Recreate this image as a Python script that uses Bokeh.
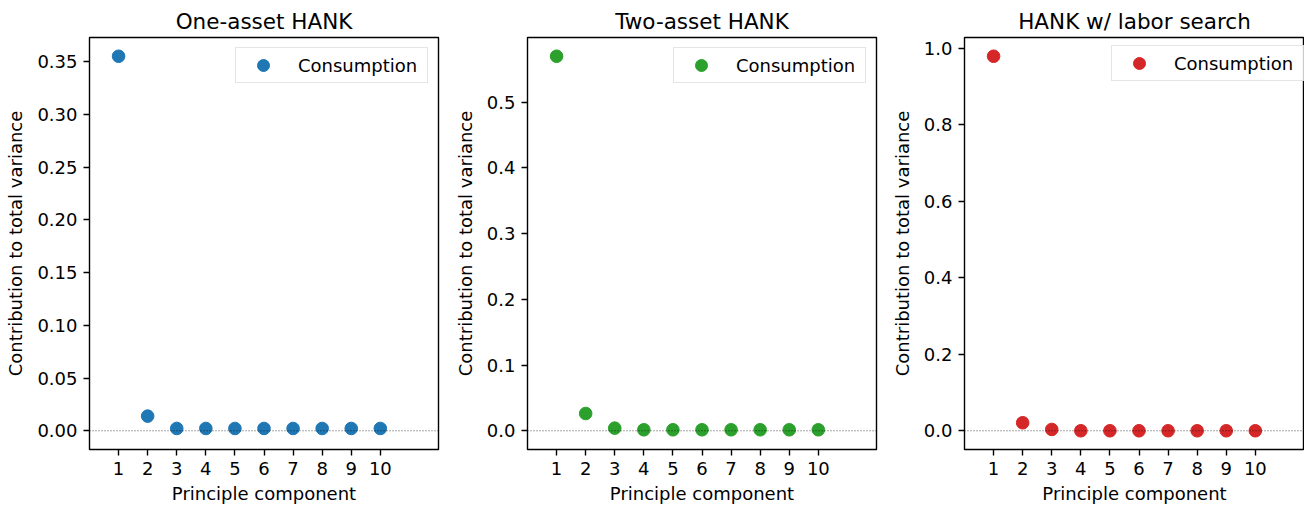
from bokeh.plotting import figure
from bokeh.layouts import row
from bokeh.models import Range1d, FixedTicker, Span, Legend, LegendItem, NumeralTickFormatter
from bokeh.embed import file_html
from bokeh.resources import INLINE

# ---------------- data ----------------
components = [1, 2, 3, 4, 5, 6, 7, 8, 9, 10]
x_tick_labels = ["1", "2", "3", "4", "5", "6", "7", "8", "9", "10"]

titles = ["One-asset HANK", "Two-asset HANK", "HANK w/ labor search"]

one_asset = [0.3553, 0.0139, 0.0022, 0.0022, 0.0022, 0.0022, 0.0022, 0.0022, 0.0022, 0.0022]
two_asset = [0.570, 0.0263, 0.0040, 0.0015, 0.0015, 0.0015, 0.0015, 0.0015, 0.0015, 0.0015]
labor_search = [0.979, 0.021, 0.0035, 0.0, 0.0, 0.0, 0.0, 0.0, 0.0, 0.0]

colors = ["#1f77b4", "#2ca02c", "#d62728"]

y_ticks_one = [0.0, 0.05, 0.10, 0.15, 0.20, 0.25, 0.30, 0.35]
y_tick_labels_one = ["0.00", "0.05", "0.10", "0.15", "0.20", "0.25", "0.30", "0.35"]
y_ticks_two = [0.0, 0.1, 0.2, 0.3, 0.4, 0.5]
y_tick_labels_two = ["0.0", "0.1", "0.2", "0.3", "0.4", "0.5"]
y_ticks_three = [0.0, 0.2, 0.4, 0.6, 0.8, 1.0]
y_tick_labels_three = ["0.0", "0.2", "0.4", "0.6", "0.8", "1.0"]

legend_label = "Consumption"
x_label = "Principle component"
y_label = "Contribution to total variance"

x_lim = (0, 12)

FONT = "DejaVu Sans"


def make_panel(title, vals, color, yticks, ylabels, yfmt, width, border_left,
               border_right, frame_w, legend_loc):
    lo = min(0.0, min(vals))
    hi = max(vals)
    pad = 0.05 * (hi - lo)
    x_end = x_lim[0] + (x_lim[1] - x_lim[0]) * frame_w / 349.0
    p = figure(width=width, height=506, output_backend="svg", toolbar_location=None,
               x_range=Range1d(x_lim[0], x_end), y_range=Range1d(lo - pad, hi + pad),
               min_border_left=border_left, min_border_right=border_right,
               min_border_top=37, min_border_bottom=57, title=title)
    p.title.align = "center"
    p.title.text_font = FONT
    p.title.text_font_size = "21.5px"
    p.title.text_font_style = "normal"
    p.title.text_color = "black"
    p.title.standoff = 7

    p.xgrid.visible = False
    p.ygrid.visible = False
    p.outline_line_color = "black"
    p.outline_line_width = 1.4
    p.background_fill_color = "white"
    p.border_fill_color = "white"

    for ax in (p.xaxis, p.yaxis):
        ax.axis_line_color = None
        ax.major_tick_out = 6
        ax.major_tick_in = 0
        ax.minor_tick_out = 0
        ax.minor_tick_in = 0
        ax.major_tick_line_color = "black"
        ax.major_tick_line_width = 1.4
        ax.major_label_text_font = FONT
        ax.major_label_text_font_size = "18px"
        ax.major_label_text_color = "black"
        ax.major_label_standoff = 6
        ax.axis_label_text_font = FONT
        ax.axis_label_text_font_size = "18px"
        ax.axis_label_text_font_style = "normal"
        ax.axis_label_text_color = "black"

    p.xaxis.ticker = FixedTicker(ticks=components)
    p.xaxis.major_label_overrides = {c: l for c, l in zip(components, x_tick_labels)}
    p.xaxis.major_label_standoff = 6
    p.xaxis.axis_label = x_label
    p.xaxis.axis_label_standoff = 5

    p.yaxis.ticker = FixedTicker(ticks=yticks)
    p.yaxis.formatter = NumeralTickFormatter(format=yfmt)
    p.yaxis.axis_label = y_label
    p.yaxis.axis_label_standoff = 8

    zero = Span(location=0, dimension="width", line_color="black",
                line_width=0.7, line_dash="1 2")
    p.add_layout(zero)

    r = p.scatter(components, vals, size=12.6, fill_color=color, line_color=color)

    legend = Legend(items=[LegendItem(label=legend_label, renderers=[r])],
                    location=legend_loc, margin=10, padding=2, spacing=0,
                    glyph_width=50, glyph_height=30, label_standoff=10,
                    label_width=127, label_height=20,
                    border_line_color="#cccccc", border_line_width=1,
                    background_fill_color="white", background_fill_alpha=0.8,
                    label_text_font=FONT, label_text_font_size="18px",
                    label_text_color="black", label_text_baseline="middle")
    p.add_layout(legend)
    return p


p1 = make_panel(titles[0], one_asset, colors[0], y_ticks_one, y_tick_labels_one, "0.00",
                440, 89, 2, 349, "top_right")
p2 = make_panel(titles[1], two_asset, colors[1], y_ticks_two, y_tick_labels_two, "0.0",
                440, 87, 4, 349, "top_right")
p3 = make_panel(titles[2], labor_search, colors[2], y_ticks_three, y_tick_labels_three, "0.0",
                424, 84, 0, 340, (147, 368))

layout = row(p1, p2, p3, spacing=0)

open("out.html", "w").write(file_html(layout, INLINE))
